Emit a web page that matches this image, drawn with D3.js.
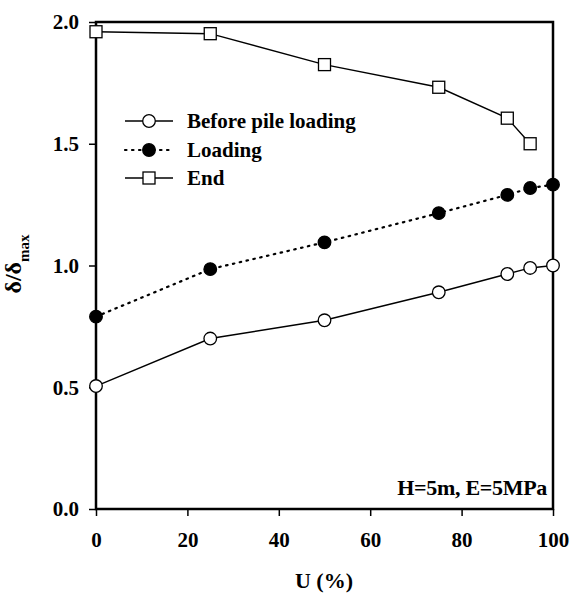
<!DOCTYPE html>
<html>
<head>
<meta charset="utf-8">
<script src="https://cdn.jsdelivr.net/npm/d3@7"></script>
<style>
  body { margin: 0; background: #fff; }
  text { font-family: "Liberation Serif", "Times New Roman", serif; font-weight: bold; fill: #000; }
</style>
</head>
<body>
<svg id="chart" width="571" height="595"></svg>
<script>
// Degree of consolidation U (%) and normalised settlement δ/δmax
const uBefore = [0, 25, 50, 75, 90, 95, 100];
const before  = [0.505, 0.70, 0.775, 0.89, 0.965, 0.99, 1.0];
const uLoading = [0, 25, 50, 75, 90, 95, 100];
const loading  = [0.79, 0.985, 1.095, 1.215, 1.29, 1.318, 1.332];
const uEnd = [0, 25, 50, 75, 90, 95];
const end  = [1.96, 1.952, 1.825, 1.732, 1.605, 1.50];
const xTicks = [0, 20, 40, 60, 80, 100];
const yTicks = [0.0, 0.5, 1.0, 1.5, 2.0];
const seriesNames = ["Before pile loading", "Loading", "End"];

const svg = d3.select("#chart");
const plotLeft = 96, plotRight = 553, plotTop = 22, plotBottom = 509;
const serif = "'Liberation Serif', 'Times New Roman', serif";

const x = d3.scaleLinear().domain([0, 100]).range([plotLeft, plotRight]);
const y = d3.scaleLinear().domain([0, 2]).range([plotBottom, plotTop]);

// Axes
const xAxis = svg.append("g").attr("transform", `translate(0,${plotBottom})`)
  .call(d3.axisBottom(x).tickValues(xTicks).tickFormat(d3.format("d")).tickSize(7).tickPadding(16));
const yAxis = svg.append("g").attr("transform", `translate(${plotLeft},0)`)
  .call(d3.axisLeft(y).tickValues(yTicks).tickFormat(d3.format(".1f")).tickSize(7).tickPadding(10));
[xAxis, yAxis].forEach(g => {
  g.select(".domain").remove();
  g.selectAll(".tick line").attr("stroke", "#000").attr("stroke-width", 1.5);
  g.selectAll(".tick text").style("font-size", "21px").style("font-family", serif).style("font-weight", "bold");
});
yAxis.selectAll(".tick text").attr("dy", "0.33em");

// Frame
svg.append("rect")
  .attr("x", plotLeft).attr("y", plotTop).attr("width", plotRight - plotLeft).attr("height", plotBottom - plotTop)
  .attr("fill", "none").attr("stroke", "#000").attr("stroke-width", 2.5);

const line = d3.line().x(d => x(d[0])).y(d => y(d[1]));
const zip = (a, b) => a.map((v, i) => [v, b[i]]);

const dBefore = zip(uBefore, before);
const dLoading = zip(uLoading, loading);
const dEnd = zip(uEnd, end);

svg.append("path").datum(dBefore).attr("d", line)
  .attr("fill", "none").attr("stroke", "#000").attr("stroke-width", 1.4);
svg.append("path").datum(dLoading).attr("d", line)
  .attr("fill", "none").attr("stroke", "#000").attr("stroke-width", 2.2)
  .attr("stroke-dasharray", "1.5,5.5").attr("stroke-linecap", "round");
svg.append("path").datum(dEnd).attr("d", line)
  .attr("fill", "none").attr("stroke", "#000").attr("stroke-width", 1.4);

function circles(data, fill) {
  svg.append("g").selectAll("circle").data(data).join("circle")
    .attr("cx", d => x(d[0])).attr("cy", d => y(d[1])).attr("r", 6.3)
    .attr("fill", fill).attr("stroke", "#000").attr("stroke-width", 1.3);
}
function squares(data) {
  svg.append("g").selectAll("rect").data(data).join("rect")
    .attr("x", d => x(d[0]) - 6).attr("y", d => y(d[1]) - 6)
    .attr("width", 12).attr("height", 12)
    .attr("fill", "#fff").attr("stroke", "#000").attr("stroke-width", 1.3);
}
circles(dBefore, "#fff");
circles(dLoading, "#000");
squares(dEnd);

// Legend
const lg = svg.append("g");
const rows = [121, 150, 178];
const lx0 = 125, lx1 = 173, lm = 149;
lg.append("line").attr("x1", lx0).attr("x2", lx1).attr("y1", rows[0]).attr("y2", rows[0])
  .attr("stroke", "#000").attr("stroke-width", 1.4);
lg.append("circle").attr("cx", lm).attr("cy", rows[0]).attr("r", 6.3)
  .attr("fill", "#fff").attr("stroke", "#000").attr("stroke-width", 1.3);
lg.append("line").attr("x1", lx0).attr("x2", lx1).attr("y1", rows[1]).attr("y2", rows[1])
  .attr("stroke", "#000").attr("stroke-width", 2.2)
  .attr("stroke-dasharray", "1.5,5.5").attr("stroke-linecap", "round");
lg.append("circle").attr("cx", lm).attr("cy", rows[1]).attr("r", 6.3)
  .attr("fill", "#000").attr("stroke", "#000").attr("stroke-width", 1.3);
lg.append("line").attr("x1", lx0).attr("x2", lx1).attr("y1", rows[2]).attr("y2", rows[2])
  .attr("stroke", "#000").attr("stroke-width", 1.4);
lg.append("rect").attr("x", lm - 6).attr("y", rows[2] - 6).attr("width", 12).attr("height", 12)
  .attr("fill", "#fff").attr("stroke", "#000").attr("stroke-width", 1.3);
seriesNames.forEach((name, i) => {
  lg.append("text").attr("x", 187).attr("y", rows[i]).attr("dy", "0.33em")
    .style("font-size", "21px").text(name);
});

// Annotation
svg.append("text").attr("x", 547).attr("y", 495).attr("text-anchor", "end")
  .style("font-size", "22px").style("letter-spacing", "-0.3px").text("H=5m, E=5MPa");

// Axis titles
svg.append("text").attr("x", 324).attr("y", 588).attr("text-anchor", "middle")
  .style("font-size", "22px").text("U (%)");
const yt = svg.append("text").attr("transform", "translate(21,264) rotate(-90)")
  .attr("text-anchor", "middle").style("font-size", "24px").style("font-weight", "bold");
yt.append("tspan").text("δ/δ");
yt.append("tspan").attr("dy", "8").style("font-size", "15px").style("font-weight", "bold").text("max");
</script>
</body>
</html>
